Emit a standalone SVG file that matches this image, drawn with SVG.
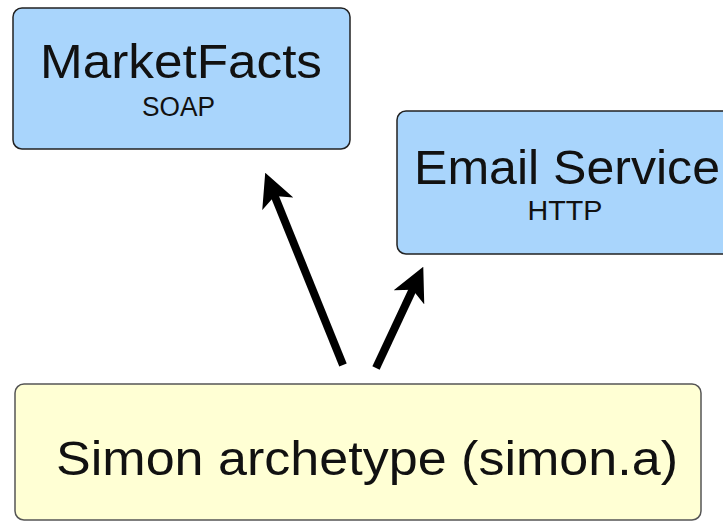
<svg xmlns="http://www.w3.org/2000/svg" width="723" height="521" viewBox="0 0 723 521">
<style>
.svc{fill:#a9d5fc;stroke:#222;stroke-width:1.5}
.app{fill:#ffffd4;stroke:#555;stroke-width:1.5}
.t{font-family:"Liberation Sans","Arial",sans-serif;fill:#111;text-anchor:middle}
.big{font-size:48px}
.small{font-size:27px}
.edge{stroke:#000;stroke-width:8;fill:none;marker-end:url(#ah)}
</style>
<defs>
<marker id="ah" viewBox="0 0 10 10" refX="7" refY="5" markerWidth="4.2" markerHeight="4.2" orient="auto" markerUnits="strokeWidth">
<path d="M0,0 L10,5 L0,10 L2.5,5 Z" fill="#000"/>
</marker>
</defs>
<rect width="723" height="521" fill="#fff"/>
<g id="marketfacts">
<rect class="svc" x="13" y="8" width="337" height="141" rx="9"/>
<text class="t big" x="181" y="78" textLength="282" lengthAdjust="spacingAndGlyphs">MarketFacts</text>
<text class="t small" x="178.5" y="116" textLength="73" lengthAdjust="spacingAndGlyphs">SOAP</text>
</g>
<g id="email">
<rect class="svc" x="397" y="111" width="340" height="143" rx="9"/>
<text class="t big" x="567" y="184" textLength="306" lengthAdjust="spacingAndGlyphs">Email Service</text>
<text class="t small" x="565" y="220" textLength="75" lengthAdjust="spacingAndGlyphs">HTTP</text>
</g>
<g id="simon">
<rect class="app" x="15" y="384" width="686" height="136" rx="9"/>
<text class="t big" x="367" y="475" textLength="622" lengthAdjust="spacingAndGlyphs">Simon archetype (simon.a)</text>
</g>
<g id="connectors">
<line class="edge" x1="343" y1="365" x2="269" y2="182"/>
<line class="edge" x1="376" y1="368" x2="419" y2="276"/>
</g>
</svg>
